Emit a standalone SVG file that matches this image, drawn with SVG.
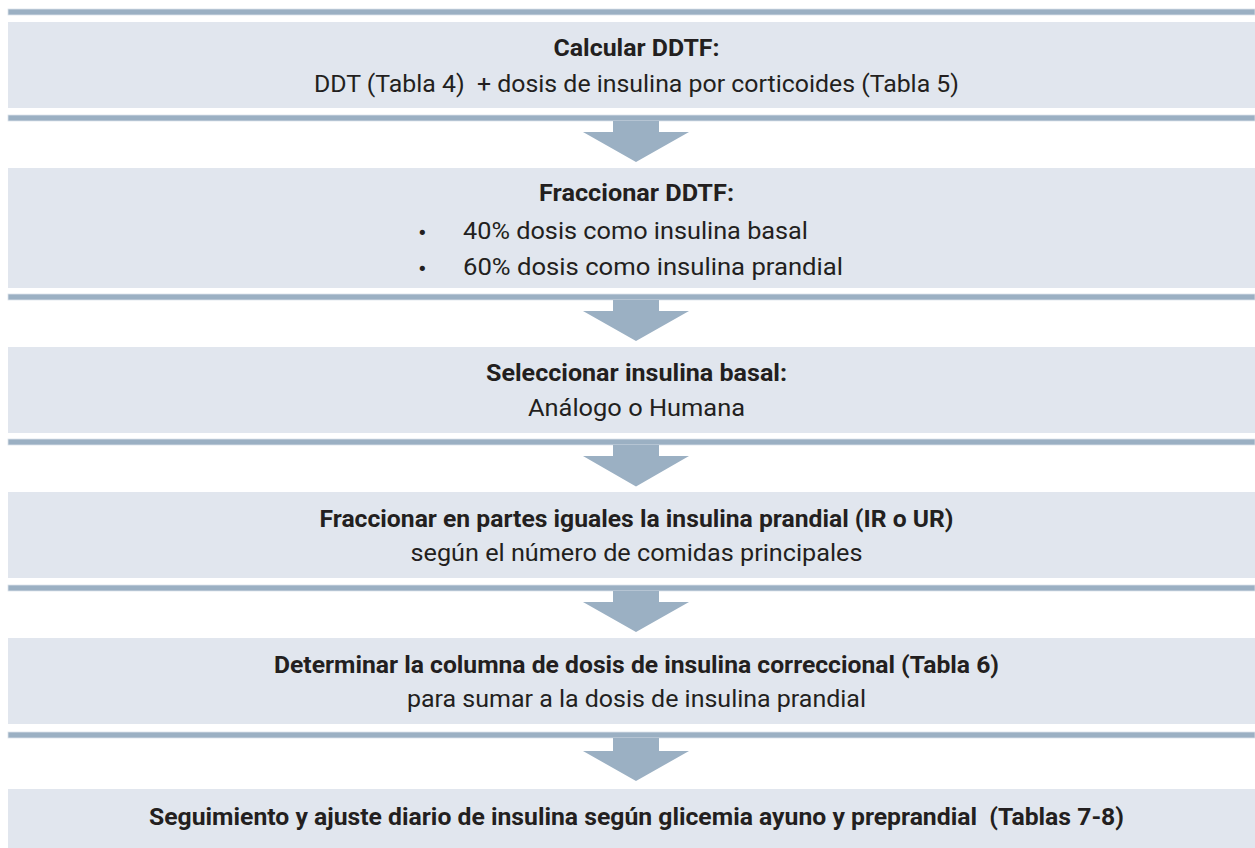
<svg xmlns="http://www.w3.org/2000/svg" width="1255" height="848" viewBox="0 0 1255 848">
  <style>
    .box { fill: #E1E6EE; }
    .bar { fill: #9BB0C3; stroke: #DCE3EA; stroke-width: 0.8; }
    .arrow { fill: #9BB0C3; }
    text { font-family: Roboto, Lato, "Noto Sans", sans-serif; font-size: 23px; fill: #231F20; }
    .c { text-anchor: middle; }
    .b { font-weight: bold; }
    .dot { font-family: "DejaVu Sans", sans-serif; font-size: 18px; }
  </style>
  <rect x="0" y="0" width="1255" height="848" fill="#FFFFFF"/>

  <g id="separators">
    <rect class="bar" x="8" y="9" width="1247" height="6"/>
    <rect class="bar" x="8" y="115" width="1247" height="6"/>
    <rect class="bar" x="8" y="294" width="1247" height="6"/>
    <rect class="bar" x="8" y="439" width="1247" height="6"/>
    <rect class="bar" x="8" y="585" width="1247" height="6"/>
    <rect class="bar" x="8" y="732" width="1247" height="6"/>
  </g>

  <g id="connectors">
    <polygon class="arrow" points="613,121 659,121 659,132 689,132 636,162 583,132 613,132"/>
    <polygon class="arrow" points="613,300 659,300 659,311 689,311 636,341 583,311 613,311"/>
    <polygon class="arrow" points="613,445 659,445 659,456 689,456 636,486.5 583,456 613,456"/>
    <polygon class="arrow" points="613,591 659,591 659,602 689,602 636,632 583,602 613,602"/>
    <polygon class="arrow" points="613,738 659,738 659,751 689,751 636,781 583,751 613,751"/>
  </g>

  <g id="node1">
    <rect class="box" x="8" y="22" width="1247" height="86"/>
    <text class="c b" x="636.5" y="56" textLength="166" lengthAdjust="spacingAndGlyphs">Calcular DDTF:</text>
    <text class="c" x="636.5" y="92" textLength="645" lengthAdjust="spacingAndGlyphs" xml:space="preserve">DDT (Tabla 4)  + dosis de insulina por corticoides (Tabla 5)</text>
  </g>

  <g id="node2">
    <rect class="box" x="8" y="168" width="1247" height="120"/>
    <text class="c b" x="636.5" y="201" textLength="195" lengthAdjust="spacingAndGlyphs">Fraccionar DDTF:</text>
    <text class="dot" x="417" y="239">•</text>
    <text x="463" y="239" textLength="345" lengthAdjust="spacingAndGlyphs">40% dosis como insulina basal</text>
    <text class="dot" x="417" y="275">•</text>
    <text x="463" y="275" textLength="380" lengthAdjust="spacingAndGlyphs">60% dosis como insulina prandial</text>
  </g>

  <g id="node3">
    <rect class="box" x="8" y="347" width="1247" height="86"/>
    <text class="c b" x="636.5" y="381" textLength="301" lengthAdjust="spacingAndGlyphs">Seleccionar insulina basal:</text>
    <text class="c" x="636.5" y="416" textLength="217" lengthAdjust="spacingAndGlyphs">Análogo o Humana</text>
  </g>

  <g id="node4">
    <rect class="box" x="8" y="492" width="1247" height="86"/>
    <text class="c b" x="636.5" y="527" textLength="634" lengthAdjust="spacingAndGlyphs">Fraccionar en partes iguales la insulina prandial (IR o UR)</text>
    <text class="c" x="636.5" y="561" textLength="452" lengthAdjust="spacingAndGlyphs">según el número de comidas principales</text>
  </g>

  <g id="node5">
    <rect class="box" x="8" y="638" width="1247" height="86"/>
    <text class="c b" x="636.5" y="673" textLength="725" lengthAdjust="spacingAndGlyphs">Determinar la columna de dosis de insulina correccional (Tabla 6)</text>
    <text class="c" x="636.5" y="707" textLength="459" lengthAdjust="spacingAndGlyphs">para sumar a la dosis de insulina prandial</text>
  </g>

  <g id="node6">
    <rect class="box" x="8" y="789" width="1247" height="59"/>
    <text class="c b" x="636.5" y="825" textLength="975" lengthAdjust="spacingAndGlyphs" xml:space="preserve">Seguimiento y ajuste diario de insulina según glicemia ayuno y preprandial  (Tablas 7-8)</text>
  </g>
</svg>
